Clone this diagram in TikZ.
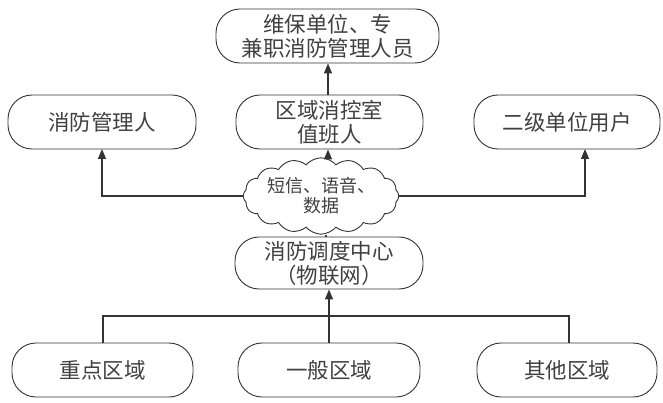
\documentclass[tikz,border=0pt]{standalone}
\usepackage{fontspec}
\newfontfamily\cjk{Noto Sans CJK SC}
\usetikzlibrary{shapes.symbols,arrows.meta}
\definecolor{ln}{HTML}{333333}
\definecolor{tx}{HTML}{404040}
\begin{document}
\begin{tikzpicture}[x=1pt,y=1pt,
  box/.style={draw=ln, line width=0.9pt, rounded corners=24pt, minimum height=54pt,
    inner sep=0pt, align=center, text=tx, font=\cjk\fontsize{21.5}{24}\selectfont},
  wire/.style={draw=ln, line width=1.4pt},
  arr/.style={wire, -{Triangle[width=8pt,length=10pt]}}]
\useasboundingbox (0,0) rectangle (663,402);
% top
\node[box, minimum width=223pt] (T) at (327.5,366) {维保单位、专\\兼职消防管理人员};
% middle row
\node[box, minimum width=188pt] (L) at (102,280) {消防管理人};
\node[box, minimum width=187pt] (M) at (329.5,280) {区域消控室\\值班人};
\node[box, minimum width=186pt] (R) at (567,280) {二级单位用户};
% cloud
\node[cloud, draw=ln, line width=0.9pt, cloud puffs=16, cloud puff arc=100, aspect=2.4,
  minimum width=134pt, minimum height=60pt, inner sep=0pt, align=center, text=tx,
  font=\cjk\fontsize{18}{20}\selectfont] (C) at (321,206) {短信、语音、\\数据};
% dispatch
\node[box, minimum width=188pt, minimum height=52pt] (D) at (329,139) {消防调度中心\\（物联网）};
% bottom row
\node[box, minimum width=181pt] (B1) at (102.5,32) {重点区域};
\node[box, minimum width=182pt] (B2) at (329,32) {一般区域};
\node[box, minimum width=180pt] (B3) at (567,32) {其他区域};
% connectors
\coordinate (rin) at (585,253);
\coordinate (lin) at (102,253);
\coordinate (hub) at (329,86);
\draw[arr] (M.north -| 328,0) -- (T.south -| 328,0);
\draw[arr] (C.north -| 328,0) -- (M.south -| 328,0);
\draw[arr] (C.west) -| (lin);
\draw[arr] (C.east) -| (rin);
\draw[wire] (D.north -| 326,0) -- (C.south -| 326,0);
\draw[wire] (B1.north -| 103,0) |- (hub);
\draw[wire] (B3.north -| 569,0) |- (hub);
\draw[arr] (B2.north) -- (D.south);
\end{tikzpicture}
\end{document}
